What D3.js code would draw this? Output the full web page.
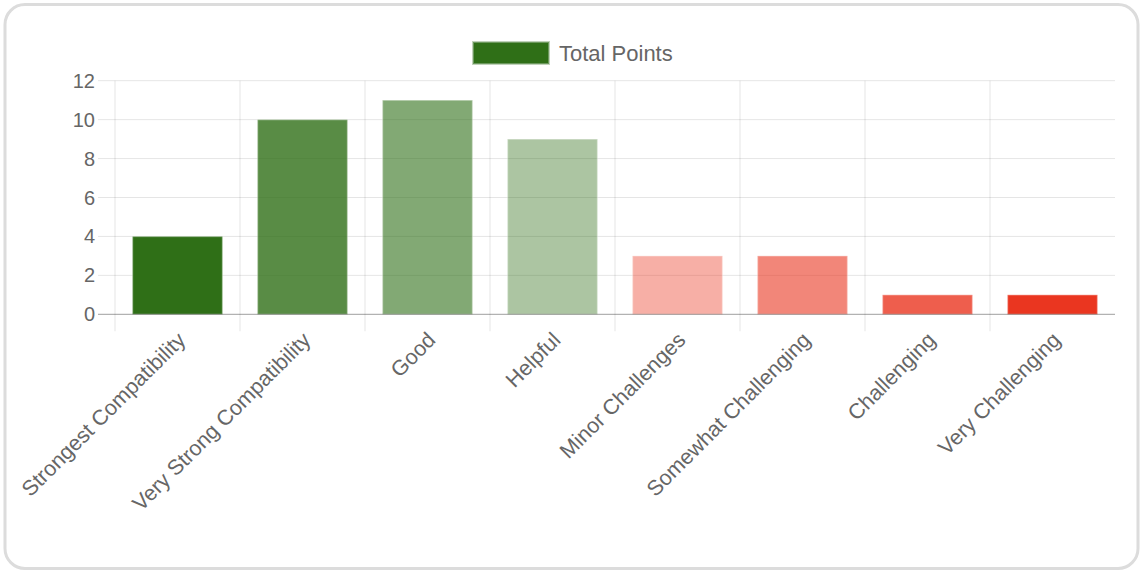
<!DOCTYPE html>
<html>
<head>
<meta charset="utf-8">
<script src="https://cdn.jsdelivr.net/npm/d3@7"></script>
<style>
  html, body { margin: 0; padding: 0; background: #fff; }
  svg { display: block; font-family: "Liberation Sans", Arial, Helvetica, sans-serif; }
</style>
</head>
<body>
<div id="chart"></div>
<script>
// data
var categories = ["Strongest Compatibility", "Very Strong Compatibility", "Good", "Helpful",
  "Minor Challenges", "Somewhat Challenging", "Challenging", "Very Challenging"];
var totalPoints = [4, 10, 11, 9, 3, 3, 1, 1];
var yTicks = [0, 2, 4, 6, 8, 10, 12];
var seriesName = "Total Points";

// styles
var barColors = [
  "rgba(47,111,23,1)", "rgba(47,111,23,0.8)", "rgba(47,111,23,0.6)", "rgba(47,111,23,0.4)",
  "rgba(234,54,32,0.4)", "rgba(234,54,32,0.6)", "rgba(234,54,32,0.8)", "rgba(234,54,32,1)"
];

var W = 1141, H = 571;
var plot = {left: 115, right: 1115, top: 80.7, bottom: 314.3};
var tickLen = 17;

var svg = d3.select("#chart").append("svg")
  .attr("width", W)
  .attr("height", H);

// card
svg.append("rect")
  .attr("x", 5).attr("y", 4.5)
  .attr("width", 1133).attr("height", 564)
  .attr("rx", 20).attr("ry", 20)
  .attr("fill", "#fff")
  .attr("stroke", "#dcdcdc")
  .attr("stroke-width", 3);

var x = d3.scaleBand()
  .domain(categories)
  .range([plot.left, plot.right])
  .paddingInner(0.28)
  .paddingOuter(0.14);

var y = d3.scaleLinear()
  .domain([0, 12])
  .range([plot.bottom, plot.top]);

var step = x.step();
var bandStart = function(c){ return plot.left + categories.indexOf(c) * step; };

// horizontal grid
svg.append("g").selectAll("line")
  .data(yTicks.filter(function(d){ return d !== 0; }))
  .enter().append("line")
  .attr("x1", plot.left - tickLen).attr("x2", plot.right)
  .attr("y1", function(d){ return y(d); })
  .attr("y2", function(d){ return y(d); })
  .attr("stroke", "rgba(0,0,0,0.1)")
  .attr("stroke-width", 1);

// vertical grid
svg.append("g").selectAll("line")
  .data(categories)
  .enter().append("line")
  .attr("x1", function(d){ return bandStart(d); })
  .attr("x2", function(d){ return bandStart(d); })
  .attr("y1", plot.top).attr("y2", plot.bottom + tickLen)
  .attr("stroke", "rgba(0,0,0,0.1)")
  .attr("stroke-width", 1);

// bars
svg.append("g").selectAll("rect")
  .data(totalPoints)
  .enter().append("rect")
  .attr("x", function(d, i){ return x(categories[i]); })
  .attr("width", x.bandwidth())
  .attr("y", function(d){ return y(d); })
  .attr("height", function(d){ return y(0) - y(d); })
  .attr("fill", function(d, i){ return barColors[i]; })
  .attr("stroke", "rgba(255,255,255,0.3)")
  .attr("stroke-width", 1.5);

// zero line
svg.append("line")
  .attr("x1", plot.left - tickLen).attr("x2", plot.right)
  .attr("y1", y(0)).attr("y2", y(0))
  .attr("stroke", "rgba(0,0,0,0.3)")
  .attr("stroke-width", 1.2);

// y labels
svg.append("g").selectAll("text")
  .data(yTicks)
  .enter().append("text")
  .attr("x", 95)
  .attr("y", function(d){ return y(d); })
  .attr("dy", "0.35em")
  .attr("text-anchor", "end")
  .attr("font-size", 20)
  .attr("fill", "#666")
  .text(function(d){ return d; });

// x labels, rotated
svg.append("g").selectAll("text")
  .data(categories)
  .enter().append("text")
  .attr("transform", function(d){
    return "translate(" + (x(d) + x.bandwidth() / 2 + 4) + "," + 336 + ")rotate(-45)";
  })
  .attr("dy", "0.35em")
  .attr("text-anchor", "end")
  .attr("font-size", 21.5)
  .attr("fill", "#666")
  .text(function(d){ return d; });

// legend
var legend = svg.append("g");
legend.append("rect")
  .attr("x", 473).attr("y", 42)
  .attr("width", 76).attr("height", 22)
  .attr("fill", barColors[0])
  .attr("stroke", "rgba(150,180,140,0.6)")
  .attr("stroke-width", 2);
legend.append("text")
  .attr("x", 559).attr("y", 60.5)
  .attr("font-size", 22)
  .attr("fill", "#666")
  .text(seriesName);
</script>
</body>
</html>
